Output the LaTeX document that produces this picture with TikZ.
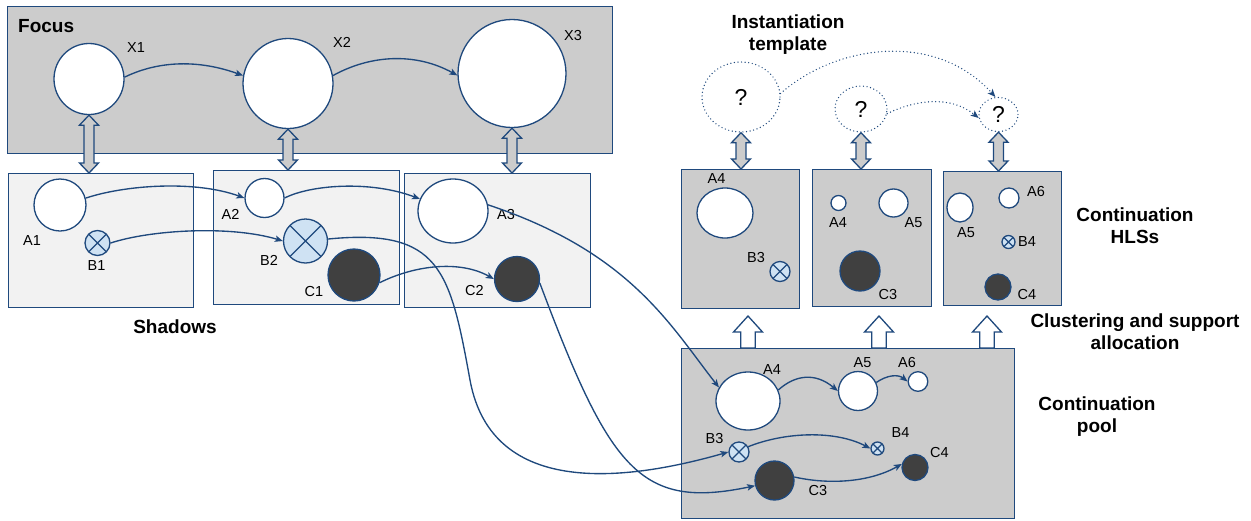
\documentclass[tikz,border=0pt]{standalone}
\usepackage{fontspec}
\setmainfont{Liberation Sans}
\usetikzlibrary{shapes.geometric,arrows.meta,calc}
\definecolor{ln}{RGB}{31,73,125}
\definecolor{gbox}{RGB}{204,204,204}
\definecolor{lbox}{RGB}{242,242,242}
\definecolor{bfill}{RGB}{207,226,243}
\definecolor{dk}{RGB}{64,64,64}
\newcommand\dblarr[2]{%
  \path[draw=ln, fill=gbox, line width=1.3pt, line join=miter] let \p1=#1, \p2=#2 in
  (\x1,\y1) -- (\x1+9.5pt,\y1-10pt) -- (\x1+5pt,\y1-10pt) -- (\x1+5pt,\y2+10pt) -- (\x1+9.5pt,\y2+10pt)
  -- (\x1,\y2) -- (\x1-9.5pt,\y2+10pt) -- (\x1-5pt,\y2+10pt) -- (\x1-5pt,\y1-10pt) -- (\x1-9.5pt,\y1-10pt) -- cycle;}
\newcommand\uparr[2]{%
  \path[draw=ln, fill=white, line width=1.3pt, line join=miter] let \p2=#2 in
  (#1pt,\y2+32pt) -- (#1pt+14.5pt,\y2+16pt) -- (#1pt+7.3pt,\y2+16pt) -- (#1pt+7.3pt,\y2)
  -- (#1pt-7.3pt,\y2) -- (#1pt-7.3pt,\y2+16pt) -- (#1pt-14.5pt,\y2+16pt) -- cycle;}
\begin{document}
\begin{tikzpicture}[x=1pt,y=-1pt,
  rbox/.style={draw=ln, line width=1.4pt, inner sep=0pt, anchor=north west, rectangle},
  ell/.style={ellipse, draw=ln, line width=1.3pt, fill=white, inner sep=0pt},
  dkc/.style={ellipse, draw=ln, line width=1.3pt, fill=dk, inner sep=0pt},
  xc/.style={circle, draw=ln, line width=1.3pt, fill=bfill, inner sep=0pt,
    path picture={\draw[ln, line width=1.1pt] (path picture bounding box.north west) -- (path picture bounding box.south east)
      (path picture bounding box.north east) -- (path picture bounding box.south west);}},
  tmpl/.style={ellipse, draw=ln, line width=1.4pt, dash pattern=on 0pt off 3.6pt, line cap=round, inner sep=0pt,
    font=\fontsize{23}{25}\selectfont},
  lab/.style={font=\fontsize{14.5}{17}\selectfont, inner sep=0pt},
  ttl/.style={font=\bfseries\fontsize{19}{22}\selectfont, align=center, inner sep=0pt},
  flow/.style={draw=ln, line width=1.35pt, -{Stealth[length=8pt,width=6.5pt,inset=2pt]}},
  dots/.style={draw=ln, line width=1.4pt, dash pattern=on 0pt off 3.6pt, line cap=round,
    -{Stealth[length=8pt,width=6.5pt,inset=2pt]}}
]
\useasboundingbox (0,0) rectangle (1251,520);

% ---------- boxes ----------
\node[rbox, fill=gbox, minimum width=605pt, minimum height=147pt] (focus) at (7,6) {};
\node[rbox, fill=lbox, minimum width=185pt, minimum height=134pt] (sh1) at (8,173) {};
\node[rbox, fill=lbox, minimum width=186pt, minimum height=134pt] (sh2) at (213,170) {};
\node[rbox, fill=lbox, minimum width=186pt, minimum height=134pt] (sh3) at (404,173) {};
\node[rbox, fill=gbox, minimum width=118pt, minimum height=139pt] (hA) at (681,169) {};
\node[rbox, fill=gbox, minimum width=119pt, minimum height=137pt] (hB) at (812,169) {};
\node[rbox, fill=gbox, minimum width=118pt, minimum height=134pt] (hC) at (943,171) {};
\node[rbox, fill=gbox, minimum width=333pt, minimum height=170pt] (pool) at (681,348) {};

% ---------- focus ----------
\node[ell, minimum width=70pt, minimum height=71pt] (X1) at (89,79) {};
\node[ell, minimum width=90pt, minimum height=90pt] (X2) at (288,83.5) {};
\node[ell, minimum width=108pt, minimum height=108pt] (X3) at (512,73.5) {};
\node[lab] (lX1) at (136,48) {X1};
\node[lab] (lX2) at (342,42.5) {X2};
\node[lab] (lX3) at (573,35.5) {X3};

% ---------- shadows ----------
\node[ell, minimum width=52pt, minimum height=52pt] (A1) at (60,205) {};
\node[xc, minimum size=25pt] (B1) at (97.5,243) {};
\node[ell, minimum width=39pt, minimum height=39pt] (A2) at (264.5,198) {};
\node[xc, minimum size=44pt] (B2) at (305.5,241) {};
\node[dkc, minimum width=52pt, minimum height=52pt] (C1) at (354,275) {};
\node[ell, minimum width=70pt, minimum height=64pt] (A3) at (453,211) {};
\node[dkc, minimum width=45pt, minimum height=45pt] (C2) at (517,279) {};
\node[lab] (lA1) at (32,241) {A1};
\node[lab] (lB1) at (96.5,266) {B1};
\node[lab] (lA2) at (230.5,214) {A2};
\node[lab] (lB2) at (269,260) {B2};
\node[lab] (lC1) at (314,292) {C1};
\node[lab] (lA3) at (506,215) {A3};
\node[lab] (lC2) at (474.5,291) {C2};

% ---------- templates ----------
\node[tmpl, minimum width=78pt, minimum height=70pt] (T1) at (741,97) {?};
\node[tmpl, minimum width=52pt, minimum height=46pt] (T2) at (861,109) {?};
\node[tmpl, minimum width=39pt, minimum height=34pt] (T3) at (998.5,114.5) {?};

% ---------- HLS boxes ----------
\node[ell, minimum width=56pt, minimum height=50pt] (A4a) at (725,213) {};
\node[xc, minimum size=20pt] (B3a) at (780,271.5) {};
\node[lab] (lA4a) at (716.5,179) {A4};
\node[lab] (lB3a) at (756,258) {B3};
\node[ell, minimum width=15pt, minimum height=15pt] (A4b) at (838.5,203) {};
\node[ell, minimum width=29pt, minimum height=28pt] (A5b) at (893.5,203) {};
\node[dkc, minimum width=40pt, minimum height=40pt] (C3b) at (860,271) {};
\node[lab] (lA4b) at (838,223) {A4};
\node[lab] (lA5b) at (913.5,223) {A5};
\node[lab] (lC3b) at (888,295) {C3};
\node[ell, minimum width=26pt, minimum height=29pt] (A5c) at (960,207.5) {};
\node[ell, minimum width=20pt, minimum height=20pt] (A6c) at (1009,198) {};
\node[xc, minimum size=13pt] (B4c) at (1008.5,242) {};
\node[dkc, minimum width=26pt, minimum height=26pt] (C4c) at (998,287) {};
\node[lab] (lA5c) at (966,233) {A5};
\node[lab] (lA6c) at (1036,192) {A6};
\node[lab] (lB4c) at (1027,242) {B4};
\node[lab] (lC4c) at (1027,295) {C4};

% ---------- pool ----------
\node[ell, minimum width=64pt, minimum height=58pt] (A4p) at (748,401) {};
\node[ell, minimum width=39pt, minimum height=39pt] (A5p) at (858,391) {};
\node[ell, minimum width=19.6pt, minimum height=19.6pt] (A6p) at (918,381.5) {};
\node[xc, minimum size=20pt] (B3p) at (739,452) {};
\node[xc, minimum size=13pt] (B4p) at (877.5,448.5) {};
\node[dkc, minimum width=39pt, minimum height=39pt] (C3p) at (774.5,480.5) {};
\node[dkc, minimum width=26pt, minimum height=26pt] (C4p) at (915,467.5) {};
\node[lab] (lA4p) at (772,370) {A4};
\node[lab] (lA5p) at (862.5,363) {A5};
\node[lab] (lA6p) at (907,363) {A6};
\node[lab] (lB3p) at (714.6,439) {B3};
\node[lab] (lB4p) at (900.5,433) {B4};
\node[lab] (lC3p) at (818,491) {C3};
\node[lab] (lC4p) at (939.5,453) {C4};

% ---------- titles ----------
\node[ttl, anchor=west] (tfocus) at (18,26.5) {Focus};
\node[ttl] (tshadows) at (175,327) {Shadows};
\node[ttl] (tinst) at (788,35) {Instantiation\\template};
\node[ttl] (thls) at (1135,226) {Continuation\\HLSs};
\node[ttl] (tclus) at (1135,332) {Clustering and support\\allocation};
\node[ttl] (tpool) at (1097,417) {Continuation\\pool};

% ---------- connectors ----------
\draw[flow] (X1.3) .. controls (160,60) and (200,60) .. (X2.170);
\draw[flow] (X2.10) .. controls (370,55) and (415,52) .. (X3.182);
\draw[flow] (A1.15) .. controls (125,185) and (195,180) .. (A2.west);
\draw[flow] (A2.east) .. controls (310,185) and (370,180) .. (A3.160);
\draw[flow] (B1.east) .. controls (150,230) and (230,225) .. (B2.west);
\draw[flow] (C1.-17) .. controls (415,265) and (460,260) .. (C2.west);
\draw[flow] (B2.5) .. controls (440,228) and (450,270) .. (470,380) .. controls (492,500) and (630,480) .. (B3p.west);
\draw[flow] (C2.-10) .. controls (610,470) and (640,510) .. (C3p.195);
\draw[flow] (A3.10) .. controls (630,252) and (670,325) .. (A4p.155);
\draw[flow] (A4p.20) .. controls (795,375) and (815,372) .. (A5p.west);
\draw[flow] (A5p.25) .. controls (887,375) and (898,374) .. (A6p.west);
\draw[flow] (B3p.30) .. controls (785,432) and (835,430) .. (B4p.west);
\draw[flow] (C3p.10) .. controls (830,485) and (870,482) .. (C4p.165);
\draw[dots] (T1.5) .. controls (835,45) and (935,30) .. (T3.100);
\draw[dots] (T2.-10) .. controls (915,100) and (950,95) .. (T3.190);

% ---------- double and block arrows ----------
\dblarr{(X1.south)}{(X1.south |- sh1.north)}
\dblarr{(X2.south)}{(X2.south |- sh2.north)}
\dblarr{(X3.south)}{(X3.south |- sh3.north)}
\dblarr{(T1.south)}{(T1.south |- hA.north)}
\dblarr{(T2.south)}{(T2.south |- hB.north)}
\dblarr{(T3.south)}{(T3.south |- hC.north)}
\uparr{748}{(pool.north)}
\uparr{879}{(pool.north)}
\uparr{987}{(pool.north)}
\end{tikzpicture}
\end{document}
